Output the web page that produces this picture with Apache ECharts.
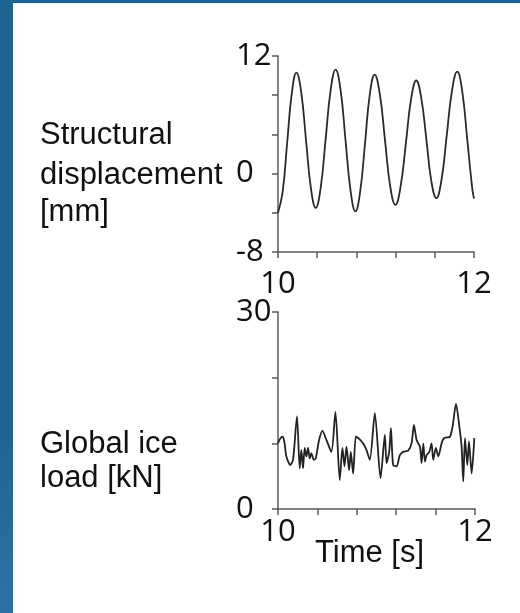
<!DOCTYPE html>
<html>
<head>
<meta charset="utf-8">
<script src="https://cdn.jsdelivr.net/npm/echarts@6/dist/echarts.min.js"></script>
<style>
  html, body { margin: 0; padding: 0; }
  body {
    width: 520px; height: 613px; overflow: hidden;
    background: linear-gradient(160deg, #1d6391 0%, #1f6594 55%, #2a72a6 75%, #1e6596 85%, #2b74a8 100%);
    position: relative;
  }
  #panel { position: absolute; left: 13px; top: 3px; right: 0; bottom: 0; background: #ffffff; }
  #chart { position: absolute; left: 0; top: 0; width: 520px; height: 613px; }
</style>
</head>
<body>
<div id="panel"></div>
<div id="chart"></div>
<script>
// Structural displacement response [mm] over time [s]
const dispTime = [
  10.000, 10.047, 10.094, 10.141, 10.188, 10.237, 10.286, 10.336, 10.385,
  10.436, 10.487, 10.537, 10.588, 10.639, 10.689, 10.740, 10.790,
  10.839, 10.888, 10.937, 10.986, 11.039, 11.092, 11.145, 11.198,
  11.251, 11.305, 11.358, 11.411, 11.462, 11.514, 11.565, 11.616,
  11.669, 11.723, 11.776, 11.829, 11.880, 11.931, 11.982, 12.000
];
const dispValue = [
  -4.0, -1.9, 3.2, 8.2, 10.3, 8.3, 3.4, -1.5, -3.5,
  -1.4, 3.6, 8.5, 10.6, 8.5, 3.4, -1.7, -3.85,
  -1.8, 3.1, 8.1, 10.1, 8.1, 3.4, -1.3, -3.2,
  -1.3, 3.1, 7.6, 9.5, 7.7, 3.5, -0.8, -2.5,
  -0.6, 4.0, 8.5, 10.4, 8.4, 3.5, -1.5, -2.55
];

// Global ice load [kN] over time [s]
const loadTime = [
  10.000, 10.017, 10.044, 10.064, 10.085, 10.125, 10.153, 10.193, 10.220, 10.237,
  10.254, 10.271, 10.288, 10.305, 10.322, 10.339, 10.363, 10.383, 10.417, 10.451,
  10.492, 10.542, 10.583, 10.627, 10.654, 10.675, 10.695, 10.722, 10.739, 10.763,
  10.790, 10.814, 10.837, 10.864, 10.898, 10.932, 10.983, 11.041, 11.085, 11.102,
  11.129, 11.146, 11.169, 11.203, 11.237, 11.271, 11.322, 11.356, 11.380, 11.407,
  11.441, 11.458, 11.475, 11.492, 11.508, 11.536, 11.559, 11.576, 11.603, 11.627,
  11.661, 11.685, 11.712, 11.746, 11.773, 11.807, 11.841, 11.864, 11.881, 11.898,
  11.922, 11.939, 11.966, 11.993
];
const loadValue = [
  10.0, 10.6, 11.0, 10.3, 8.0, 6.7, 7.5, 14.1, 6.2, 9.0,
  6.2, 9.3, 8.0, 9.3, 7.7, 8.5, 7.5, 7.7, 10.5, 11.9,
  10.5, 8.7, 14.8, 4.4, 9.3, 6.5, 9.5, 5.9, 8.7, 5.4,
  11.0, 10.8, 10.5, 10.0, 9.0, 7.5, 14.6, 4.7, 11.3, 7.0,
  8.7, 12.3, 6.7, 6.5, 8.2, 8.7, 8.9, 10.0, 12.8, 10.5,
  9.5, 7.0, 10.0, 7.2, 8.2, 8.7, 10.0, 7.5, 9.3, 8.0,
  10.0, 10.8, 10.9, 11.0, 12.6, 16.0, 12.6, 9.5, 4.2, 10.8,
  6.7, 10.3, 5.4, 10.8
];

// Tick values and which of them carry a label
const timeTicks = { min: 10, max: 12, step: 0.4, labelled: [10, 12] };
const dispTicks = { min: -8, max: 12, step: 4, labelled: [-8, 0, 12] };
const loadTicks = { min: 0, max: 30, step: 10, labelled: [0, 30] };

const zip = (xs, ys) => xs.map((x, i) => [x, ys[i]]);
const onlyLabels = list => v => list.some(t => Math.abs(t - v) < 1e-6) ? String(Math.round(v)) : '';

const axisColor = '#5a5a5a';
const numFont = '"Open Sans", "Noto Sans", sans-serif';
const textFont = '"Liberation Sans", Arial, sans-serif';

function timeAxis(gridIndex, margin) {
  return {
    type: 'value', gridIndex,
    min: timeTicks.min, max: timeTicks.max, interval: timeTicks.step,
    axisLine: { show: true, onZero: false, lineStyle: { color: axisColor, width: 1.5 } },
    axisTick: { show: true, length: 6, lineStyle: { color: axisColor, width: 1.5 } },
    axisLabel: {
      show: true, margin, formatter: onlyLabels(timeTicks.labelled),
      color: '#111', fontSize: 31, fontFamily: numFont,
      showMinLabel: true, showMaxLabel: true, hideOverlap: false
    },
    splitLine: { show: false }
  };
}

function valueAxis(gridIndex, ticks) {
  return {
    type: 'value', gridIndex,
    min: ticks.min, max: ticks.max, interval: ticks.step,
    axisLine: { show: true, onZero: false, lineStyle: { color: axisColor, width: 1.5 } },
    axisTick: { show: true, length: 6, lineStyle: { color: axisColor, width: 1.5 } },
    axisLabel: {
      show: true, margin: 42, align: 'left', formatter: onlyLabels(ticks.labelled),
      color: '#111', fontSize: 31, fontFamily: numFont,
      showMinLabel: true, showMaxLabel: true, hideOverlap: false
    },
    splitLine: { show: false }
  };
}

function label(text, x, y) {
  return {
    type: 'text', left: x, top: y,
    style: { text, font: '31px ' + textFont, fill: '#111' }
  };
}

const chart = echarts.init(document.getElementById('chart'), null, { renderer: 'canvas' });
chart.setOption({
  animation: false,
  backgroundColor: 'transparent',
  grid: [
    { left: 278, top: 56, width: 196, height: 196 },
    { left: 278, top: 312, width: 197, height: 197 }
  ],
  xAxis: [ timeAxis(0, 17), timeAxis(1, 8) ],
  yAxis: [ valueAxis(0, dispTicks), valueAxis(1, loadTicks) ],
  series: [
    {
      type: 'line', xAxisIndex: 0, yAxisIndex: 0,
      data: zip(dispTime, dispValue),
      smooth: 0.45, showSymbol: false,
      lineStyle: { color: '#2a2a2a', width: 1.8 }
    },
    {
      type: 'line', xAxisIndex: 1, yAxisIndex: 1,
      data: zip(loadTime, loadValue),
      smooth: 0.25, showSymbol: false,
      lineStyle: { color: '#222', width: 1.8 }
    }
  ],
  graphic: [
    label('Structural', 40, 120),
    label('displacement', 40, 160),
    label('[mm]', 40, 197),
    label('Global ice', 40, 429),
    label('load [kN]', 40, 463),
    label('Time [s]', 315, 538)
  ]
});
</script>
</body>
</html>
